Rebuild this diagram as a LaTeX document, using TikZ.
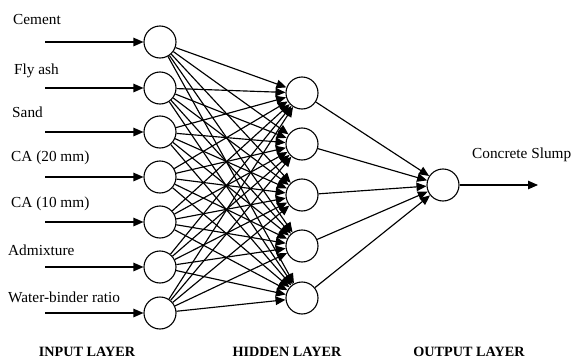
\documentclass[tikz,border=0pt]{standalone}
\usepackage{fontspec}
\setmainfont{Liberation Serif}
\usetikzlibrary{arrows.meta}
\begin{document}
\begin{tikzpicture}[x=1pt,y=-1pt,
  neuron/.style={circle,draw,line width=1.1pt,minimum size=32pt,inner sep=0pt},
  conn/.style={line width=1.15pt,-{Triangle[length=10pt,width=8.5pt]}},
  lbl/.style={font=\fontsize{15.3}{17}\selectfont,anchor=west,inner sep=0pt},
  layer/.style={font=\fontsize{14.2}{16}\selectfont\bfseries,inner sep=0pt}]
\useasboundingbox (0,0) rectangle (574,359);
% input nodes
\foreach \n/\y in {1/42,2/88,3/132,4/177,5/222,6/267,7/313}
  \node[neuron] (i\n) at (160,\y) {};
% hidden nodes
\foreach \n/\y in {1/93,2/144,3/195,4/246,5/298}
  \node[neuron] (h\n) at (302,\y) {};
\node[neuron] (o) at (443,185) {};
% input arrows
\foreach \n/\y in {1/42,2/88,3/132,4/177,5/222,6/267,7/313}{
  \coordinate (s\n) at (45,\y);
  \draw[conn] (s\n) -- (i\n);
}
% labels
\node[lbl] (l1) at (13,20) {Cement};
\node[lbl] (l2) at (14,71) {Fly ash};
\node[lbl] (l3) at (12,112) {Sand};
\node[lbl] (l4) at (11,158) {CA (20 mm)};
\node[lbl] (l5) at (11,204) {CA (10 mm)};
\node[lbl] (l6) at (8,250) {Admixture};
\node[lbl] (l7) at (8,297) {Water-binder ratio};
% connections
\foreach \a in {1,...,7}
  \foreach \b in {1,...,5}
    \draw[conn] (i\a) -- (h\b);
\foreach \b in {1,...,5}
  \draw[conn] (h\b) -- (o);
\coordinate (out) at (538,185);
\draw[conn] (o) -- (out);
\node[lbl] (cs) at (472,155) {Concrete Slump};
% layer names
\node[layer] (il) at (87,352) {INPUT LAYER};
\node[layer] (hl) at (287,352) {HIDDEN LAYER};
\node[layer] (ol) at (469,352) {OUTPUT LAYER};
\end{tikzpicture}
\end{document}
